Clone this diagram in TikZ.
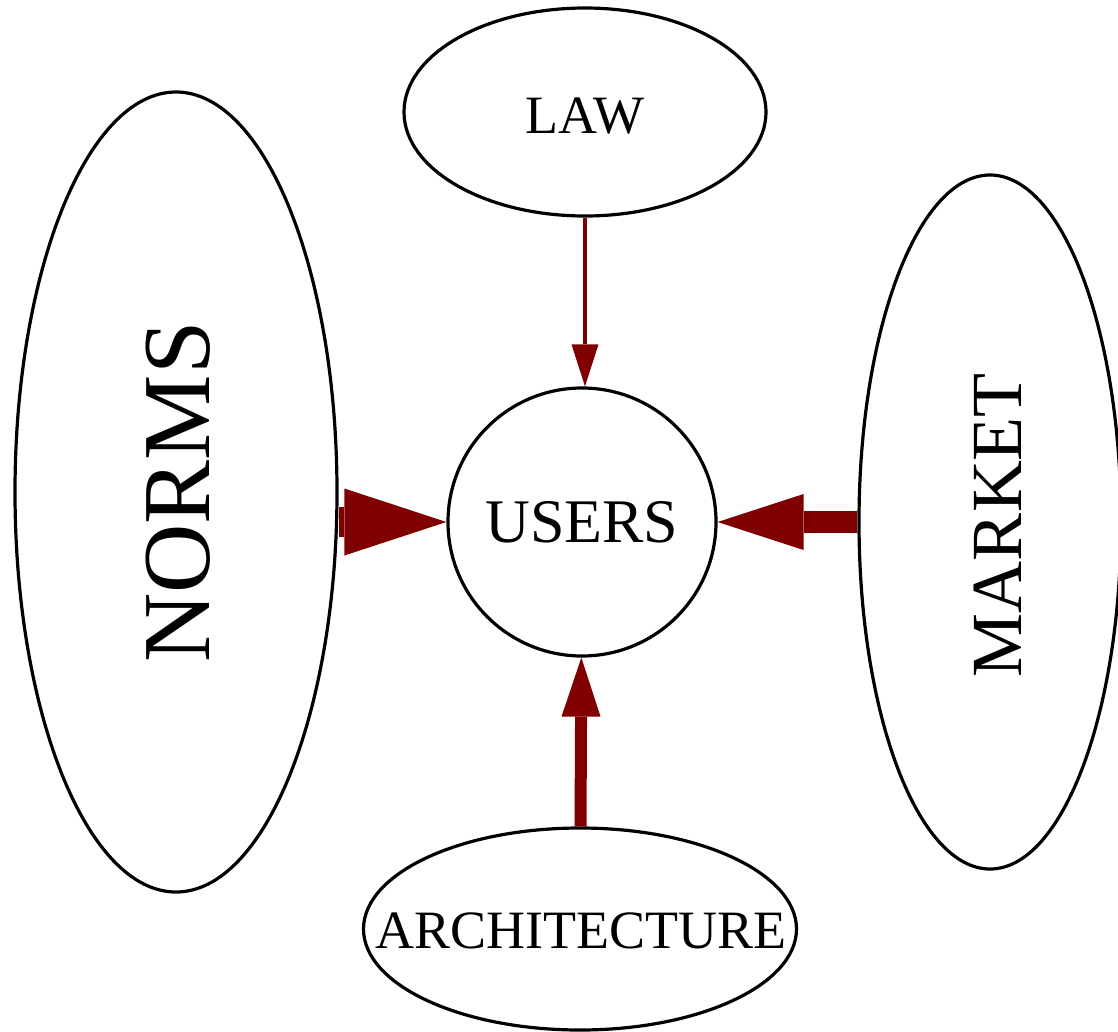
\documentclass[tikz,border=0pt]{standalone}
\usepackage{fontspec}
\setmainfont{Liberation Serif}
\usetikzlibrary{shapes.geometric,arrows.meta}
\definecolor{arrowred}{RGB}{128,0,0}
\begin{document}
\begin{tikzpicture}[x=1pt,y=-1pt,
  oval/.style={ellipse,draw=black,line width=3.2pt,inner sep=0pt},
  lbl/.style={inner sep=0pt,text=black},
  flow/.style={draw=arrowred,fill=arrowred,line cap=butt}]
\useasboundingbox (0,0) rectangle (1118,1031);
\fill[white] (0,0) rectangle (1118,1031);
% shapes
\node[oval,minimum width=362pt,minimum height=208pt] (law) at (585,112) {};
\node[oval,minimum width=322pt,minimum height=800pt] (norms) at (176,492) {};
\node[oval,minimum width=262pt,minimum height=694pt] (market) at (990,522) {};
\node[oval,minimum width=433pt,minimum height=202pt] (arch) at (580,929) {};
\node[circle,draw=black,line width=3.2pt,inner sep=0pt,minimum size=268pt] (users) at (582,522) {};
% labels
\node[lbl,font=\fontsize{54}{54}\selectfont] (lawtext) at (585,116) {LAW};
\node[lbl,rotate=90,font=\fontsize{96}{96}\selectfont] (normstext) at (178,492) {NORMS};
\node[lbl,rotate=90,font=\fontsize{72}{72}\selectfont] (markettext) at (998,525) {MARKET};
\node[lbl,font=\fontsize{54}{54}\selectfont] (archtext) at (581,931) {ARCHITECTURE};
\node[lbl,font=\fontsize{62}{62}\selectfont] (userstext) at (users) {USERS};
% connectors
\draw[flow,line width=4.5pt,-{Triangle[length=42pt,width=27pt,line width=0pt]}] (law.south) -- (law.south |- users.north);
\draw[flow,line width=30pt,-{Triangle[length=102pt,width=67pt,line width=0pt]}] (norms.east |- users.west) -- (users.west);
\draw[flow,line width=22pt,-{Triangle[length=86pt,width=56pt,line width=0pt]}] (market.west) -- (users.east);
\draw[flow,line width=12pt,-{Triangle[length=59pt,width=39pt,line width=0pt]}] (arch) -- (users);
\end{tikzpicture}
\end{document}
